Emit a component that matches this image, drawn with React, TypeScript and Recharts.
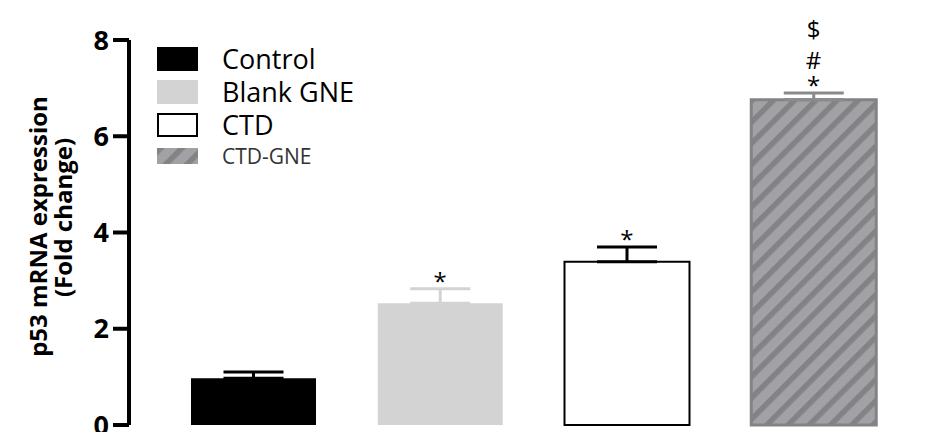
import React from 'react';
import { ComposedChart, Bar, ErrorBar, XAxis, YAxis, Line, Label } from 'recharts';

const categories = ['Control', 'Blank GNE', 'CTD', 'CTD-GNE'];
const seriesKeys = ['control', 'blank', 'ctd', 'ctdgne'];
const means = [0.97, 2.53, 3.39, 6.76];
const errors = [0.13, 0.3, 0.31, 0.14];
const significance = ['', '*', '*', '*#$'];
const yTicks = [0, 2, 4, 6, 8];

const fills = ['#000000', '#d3d3d3', '#ffffff', 'url(#ctdStripes)'];
const strokes = ['#000000', '#d3d3d3', '#000000', '#838386'];
const strokeWidths = [0, 0, 2, 3];
const errorColors = ['#000000', '#d3d3d3', '#000000', '#8a8a8d'];

const FONT = '"Open Sans", sans-serif';

const data = categories.map((name, i) => {
  const row: any = { name, top: means[i] + errors[i], sig: significance[i] };
  seriesKeys.forEach((k, j) => {
    row[k] = j === i ? means[i] : null;
    row[k + '_err'] = j === i ? [0, errors[i]] : undefined;
  });
  return row;
});

const symbolBaseline: Record<string, number> = { '*': -1, '#': 24, '$': 55 };

const renderSig = (props: any) => {
  const { cx, cy, index, payload } = props;
  const s: string = payload.sig || '';
  return (
    <g key={'sig' + index}>
      {s.split('').map((ch, k) => (
        <text
          key={k}
          x={cx}
          y={cy - (symbolBaseline[ch] ?? 0)}
          textAnchor="middle"
          fontFamily={FONT}
          fontSize={24}
          fill="#000"
        >
          {ch}
        </text>
      ))}
    </g>
  );
};

const StripeDefs = ({ id }: { id: string }) => (
  <defs>
    <pattern id={id} patternUnits="userSpaceOnUse" width={15} height={15} patternTransform="rotate(45)">
      <rect x={0} y={0} width={15} height={15} fill="#a2a2a6" />
      <rect x={0} y={0} width={5.5} height={15} fill="#838386" />
    </pattern>
  </defs>
);

const LegendBox = () => (
  <div
    style={{
      position: 'absolute',
      left: 157,
      top: 42,
      display: 'flex',
      flexDirection: 'column',
      fontFamily: FONT,
    }}
  >
    {categories.map((c, i) => {
      const last = i === categories.length - 1;
      return (
        <div key={c} style={{ display: 'flex', alignItems: 'center', height: last ? 30 : 33 }}>
          <svg width={41} height={last ? 16 : 24} style={{ display: 'block' }}>
            {last && <StripeDefs id="legendStripes" />}
            <rect
              x={i === 2 ? 1 : 0}
              y={i === 2 ? 1 : 0}
              width={i === 2 ? 39 : 41}
              height={i === 2 ? 22 : last ? 16 : 24}
              fill={last ? 'url(#legendStripes)' : fills[i]}
              stroke={i === 2 ? '#000' : 'none'}
              strokeWidth={2}
            />
          </svg>
          <span
            style={{
              marginLeft: 24,
              fontSize: last ? 21 : 27,
              color: last ? '#333' : '#000',
              lineHeight: 1,
              whiteSpace: 'nowrap',
            }}
          >
            {c}
          </span>
        </div>
      );
    })}
  </div>
);

const renderYLabel = (props: any) => {
  const { viewBox } = props;
  const mid = viewBox.y + viewBox.height / 2;
  const cy1 = mid - 6;
  const cy2 = mid - 15;
  const x1 = viewBox.x + 37;
  const x2 = viewBox.x + 62;
  return (
    <g>
      <text
        x={x1}
        y={cy1}
        transform={`rotate(-90 ${x1} ${cy1})`}
        textAnchor="middle"
        dominantBaseline="central"
        fontFamily={FONT}
        fontWeight="bold"
        fontSize={24}
        fill="#000"
      >
        p53 mRNA expression
      </text>
      <text
        x={x2}
        y={cy2}
        transform={`rotate(-90 ${x2} ${cy2})`}
        textAnchor="middle"
        dominantBaseline="central"
        fontFamily={FONT}
        fontWeight="bold"
        fontSize={24}
        fill="#000"
      >
        (Fold change)
      </text>
    </g>
  );
};

export default function App() {
  return (
    <div style={{ position: 'absolute', left: 0, top: 0, width: 929, height: 432, background: '#fff' }}>
      <ComposedChart width={929} height={432} data={data} margin={{ top: 40, right: 0, bottom: 7, left: 0 }}>
        <StripeDefs id="ctdStripes" />
        {seriesKeys.map((k, i) => (
          <Bar
            key={k}
            dataKey={k}
            stackId="a"
            barSize={125}
            fill={fills[i]}
            stroke={strokeWidths[i] ? strokes[i] : 'none'}
            strokeWidth={strokeWidths[i]}
            isAnimationActive={false}
          >
            <ErrorBar
              dataKey={k + '_err'}
              direction="y"
              width={30}
              stroke={errorColors[i]}
              strokeWidth={3}
              isAnimationActive={false}
            />
          </Bar>
        ))}
        <Line
          dataKey="top"
          stroke="none"
          dot={renderSig}
          activeDot={false}
          legendType="none"
          isAnimationActive={false}
        />
        <XAxis
          dataKey="name"
          tick={false}
          tickLine={false}
          height={0}
          axisLine={{ stroke: '#000', strokeWidth: 4 }}
          padding={{ left: 31, right: 22 }}
        />
        <YAxis
          width={129}
          domain={[0, 8]}
          ticks={yTicks}
          interval={0}
          tickSize={16}
          tickMargin={4}
          axisLine={{ stroke: '#000', strokeWidth: 4 }}
          tickLine={{ stroke: '#000', strokeWidth: 4 }}
          tick={{ fill: '#000', fontFamily: FONT, fontWeight: 'bold', fontSize: 27 }}
        >
          <Label content={renderYLabel} />
        </YAxis>
      </ComposedChart>
      <LegendBox />
    </div>
  );
}
